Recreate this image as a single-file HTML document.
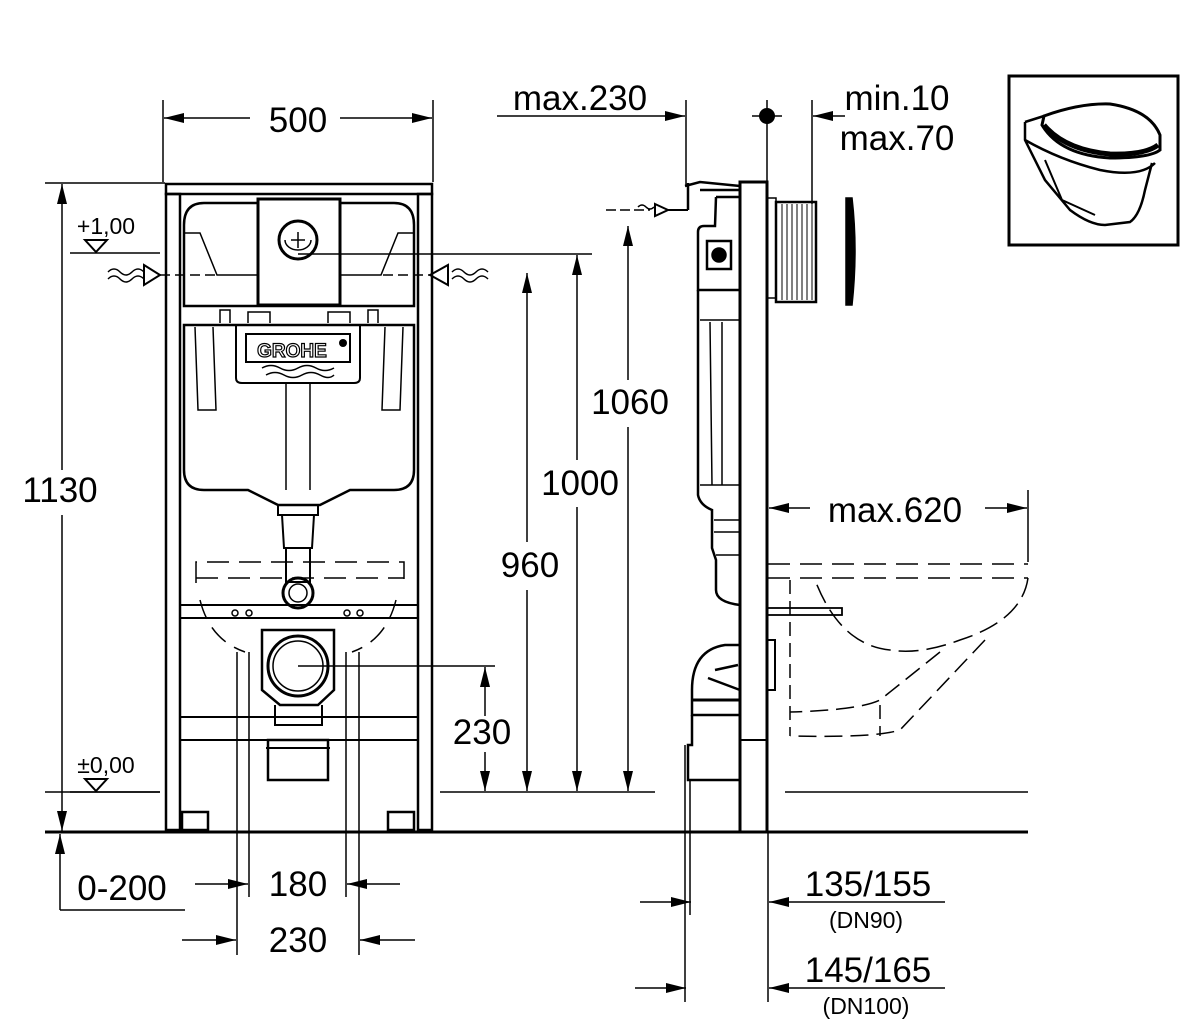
<!DOCTYPE html>
<html><head><meta charset="utf-8"><style>
html,body{margin:0;padding:0;background:#fff}
svg{display:block}
text{font-family:"Liberation Sans",sans-serif;fill:#000}
</style></head><body>
<svg width="1200" height="1030" viewBox="0 0 1200 1030" xmlns="http://www.w3.org/2000/svg">
<defs>
<marker id="a" viewBox="0 0 20 10" refX="20" refY="5" markerWidth="20" markerHeight="10" markerUnits="userSpaceOnUse" orient="auto"><path d="M0,0 L20,5 L0,10 Z" fill="#000"/></marker>
</defs>
<g stroke="#000" fill="none" stroke-width="1.5">
<line x1="45" y1="832" x2="1028" y2="832" stroke-width="3"/>
<line x1="440" y1="792" x2="655" y2="792"/>
<line x1="785" y1="792" x2="1028" y2="792"/>
<line x1="45" y1="792" x2="160" y2="792"/>
<!-- FRONT FRAME -->
<rect x="166" y="184" width="266" height="10" stroke-width="2.5"/>
<rect x="166" y="194" width="14" height="636" stroke-width="2.5"/>
<rect x="418" y="194" width="14" height="636" stroke-width="2.5"/>
<line x1="180" y1="740" x2="418" y2="740" stroke-width="2"/>
<line x1="180" y1="605" x2="418" y2="605" stroke-width="2"/>
<line x1="180" y1="618" x2="418" y2="618" stroke-width="2"/>
<line x1="180" y1="717" x2="418" y2="717" stroke-width="2"/>
<rect x="182" y="812" width="26" height="18" stroke-width="2.5"/>
<rect x="388" y="812" width="26" height="18" stroke-width="2.5"/>
<!-- cistern cover -->
<path d="M184,225 Q184,203 204,203 L394,203 Q414,203 414,225 L414,306 L184,306 Z" stroke-width="2.5"/>
<path d="M184,233 L200,233 L217,275 L258,275 M414,233 L398,233 L381,275 L340,275" stroke-width="1.5"/>
<rect x="258" y="199" width="82" height="106" stroke-width="3" fill="#fff"/>
<circle cx="298" cy="240" r="19" stroke-width="3"/>
<path d="M285,240 A13,10 0 0 0 311,240"/>
<path d="M298,232 L298,248 M291,240 L305,240"/>
<path d="M220,323 L220,310 L230,310 L230,323 M248,323 L248,312 L270,312 L270,323 M328,323 L328,312 L350,312 L350,323 M368,323 L368,310 L378,310 L378,323"/>
<!-- tank -->
<path d="M184,325 L414,325 L414,470 Q414,490 394,490 L350,490 L320,505 L278,505 L248,490 L204,490 Q184,490 184,470 Z" stroke-width="2.5"/>
<path d="M236,326 L236,378 Q236,383 242,383 L354,383 Q360,383 360,378 L360,326" stroke-width="2"/>
<rect x="246" y="334" width="104" height="28" stroke-width="2"/>
<path d="M195,327 L198,410 L216,410 L213,327 M403,327 L400,410 L382,410 L385,327"/>
<path d="M286,384 L286,490 M310,384 L310,490"/>
<path d="M278,505 L278,515 L318,515 L318,505 M282,515 L284,548 L312,548 L314,515 M286,548 L286,582 L310,582 L310,548" stroke-width="2"/>
<circle cx="298" cy="593" r="15" stroke-width="3"/>
<circle cx="298" cy="593" r="9"/>
<path d="M196,583 L196,562 L404,562 L404,583 M196,578 L404,578" stroke-dasharray="22,10"/>
<path d="M200,600 Q210,640 245,652 M396,600 Q386,640 352,652" stroke-dasharray="20,10"/>
<circle cx="235" cy="613" r="3"/><circle cx="249" cy="613" r="3"/><circle cx="347" cy="613" r="3"/><circle cx="360" cy="613" r="3"/>
<path d="M262,630 L334,630 L334,690 L318,705 L280,705 L262,690 Z" stroke-width="2.5"/>
<circle cx="298" cy="666" r="30" stroke-width="3"/>
<circle cx="298" cy="666" r="25"/>
<path d="M275,705 L275,725 L322,725 L322,705" stroke-width="2"/>
<rect x="268" y="740" width="60" height="40" stroke-width="2.5"/>
<line x1="266" y1="748" x2="330" y2="748" stroke-width="2"/>
<!-- inlets -->
<path d="M144,265 L160,275 L144,285 Z M430,275 L448,265 L448,285 Z" stroke-width="2"/>
<path d="M108,272 q6,-6 12,0 t12,0 t12,0 M108,279 q6,-6 12,0 t12,0 t12,0"/>
<path d="M452,272 q6,-6 12,0 t12,0 t12,0 M452,279 q6,-6 12,0 t12,0 t12,0"/>
<line x1="160" y1="275" x2="215" y2="275" stroke-dasharray="10,5"/>
<line x1="383" y1="275" x2="430" y2="275" stroke-dasharray="10,5"/>
<line x1="298" y1="254" x2="592" y2="254"/>
<line x1="298" y1="666" x2="495" y2="666"/>
<line x1="70" y1="253" x2="160" y2="253"/>
<path d="M85,240 L107,240 L96,252 Z" stroke-width="2"/>
<line x1="70" y1="792" x2="160" y2="792"/>
<path d="M85,779 L107,779 L96,791 Z" stroke-width="2"/>
<!-- 500 -->
<line x1="163" y1="100" x2="163" y2="182"/><line x1="433" y1="100" x2="433" y2="182"/>
<line x1="250" y1="118" x2="164" y2="118" marker-end="url(#a)"/>
<line x1="340" y1="118" x2="432" y2="118" marker-end="url(#a)"/>
<!-- 1130 -->
<line x1="45" y1="183" x2="165" y2="183"/>
<line x1="62" y1="470" x2="62" y2="184" marker-end="url(#a)"/>
<line x1="62" y1="515" x2="62" y2="831" marker-end="url(#a)"/>
<line x1="60" y1="910" x2="60" y2="834" marker-end="url(#a)"/>
<line x1="60" y1="910" x2="185" y2="910"/>
<line x1="237" y1="652" x2="237" y2="955"/>
<line x1="249" y1="652" x2="249" y2="897"/>
<line x1="346" y1="652" x2="346" y2="897"/>
<line x1="359" y1="652" x2="359" y2="955"/>
<line x1="195" y1="884" x2="248" y2="884" marker-end="url(#a)"/>
<line x1="400" y1="884" x2="347" y2="884" marker-end="url(#a)"/>
<line x1="182" y1="940" x2="236" y2="940" marker-end="url(#a)"/>
<line x1="415" y1="940" x2="360" y2="940" marker-end="url(#a)"/>
<line x1="485" y1="716" x2="485" y2="667" marker-end="url(#a)"/>
<line x1="485" y1="752" x2="485" y2="791" marker-end="url(#a)"/>
<line x1="527" y1="542" x2="527" y2="273" marker-end="url(#a)"/>
<line x1="527" y1="590" x2="527" y2="791" marker-end="url(#a)"/>
<line x1="577" y1="460" x2="577" y2="255" marker-end="url(#a)"/>
<line x1="577" y1="507" x2="577" y2="791" marker-end="url(#a)"/>
<line x1="628" y1="380" x2="628" y2="226" marker-end="url(#a)"/>
<line x1="628" y1="427" x2="628" y2="791" marker-end="url(#a)"/>
<line x1="606" y1="210" x2="650" y2="210" stroke-dasharray="10,4"/>
<!-- SIDE VIEW -->
<line x1="686" y1="100" x2="686" y2="186"/>
<line x1="497" y1="116" x2="685" y2="116" marker-end="url(#a)"/>
<line x1="812" y1="100" x2="812" y2="204"/>
<line x1="845" y1="116" x2="813" y2="116" marker-end="url(#a)"/>
<line x1="767" y1="100" x2="767" y2="182"/>
<line x1="752" y1="116" x2="782" y2="116"/>
<rect x="740" y="182" width="27" height="650" stroke-width="3"/>
<line x1="740" y1="740" x2="767" y2="740" stroke-width="2"/>
<path d="M685,186 L700,182 L740,186 M688,210 L688,183 M700,190 L740,190" stroke-width="2.5"/>
<path d="M655,204 L668,210 L655,216 Z M668,210 L688,210" stroke-width="2"/>
<path d="M638,207 q4,-4 8,0 t8,0" />
<path d="M716,197 L740,197 L740,290 L698,290 L698,232 Q698,226 704,226 L715,226 L716,197" stroke-width="2.5"/>
<rect x="707" y="241" width="24" height="28" stroke-width="2.5"/>
<circle cx="719" cy="255" r="7" fill="#000"/>
<path d="M698,290 L698,495 Q700,505 712,510 L712,548 L716,560 L716,590 Q716,602 740,605" stroke-width="2.5"/>
<path d="M700,320 L740,320 M710,322 L712,485 M722,322 L722,485 M700,485 L740,485 M714,520 L740,520 M714,532 L740,532 M716,555 L740,555"/>
<rect x="767" y="198" width="9" height="100" stroke-width="1.5"/>
<rect x="776" y="202" width="40" height="100" stroke-width="2.5"/>
<g stroke-width="1"><line x1="782" y1="204" x2="782" y2="300"/><line x1="787" y1="204" x2="787" y2="300"/><line x1="792" y1="204" x2="792" y2="300"/><line x1="797" y1="204" x2="797" y2="300"/><line x1="802" y1="204" x2="802" y2="300"/><line x1="807" y1="204" x2="807" y2="300"/><line x1="812" y1="204" x2="812" y2="300"/></g>
<path d="M846,198 L852,198 Q858,250 852,305 L846,305 Z" fill="#000"/>
<path d="M740,645 L725,645 Q692,650 692,690 L692,715 L740,715 M715,670 L738,665 M708,678 L740,690" stroke-width="2.5"/>
<line x1="692" y1="700" x2="740" y2="700" stroke-width="3"/>
<path d="M692,715 L692,745 L688,745 L688,780 L740,780" stroke-width="2.5"/>
<path d="M767,640 L775,640 L775,690 L767,690" stroke-width="2"/>
<path d="M768,564 L1028,564 M768,578 L1028,578" stroke-dasharray="22,10"/>
<path d="M1028,578 Q1022,620 960,640 Q920,655 890,650 Q840,645 815,580" stroke-dasharray="20,8"/>
<path d="M940,652 L880,700 Q860,710 790,712 M985,640 L900,730 Q875,738 790,736" stroke-dasharray="18,8"/>
<path d="M790,580 L790,736 M880,705 L880,736" stroke-dasharray="14,7"/>
<rect x="767" y="608" width="75" height="7" stroke-width="1.8"/>
<line x1="1028" y1="490" x2="1028" y2="562"/>
<line x1="810" y1="508" x2="769" y2="508" marker-end="url(#a)"/>
<line x1="985" y1="508" x2="1027" y2="508" marker-end="url(#a)"/>
<line x1="685" y1="745" x2="685" y2="1002"/>
<line x1="690" y1="780" x2="690" y2="915"/>
<line x1="768" y1="832" x2="768" y2="1002"/>
<line x1="640" y1="902" x2="691" y2="902" marker-end="url(#a)"/>
<line x1="945" y1="902" x2="769" y2="902" marker-end="url(#a)"/>
<line x1="635" y1="988" x2="686" y2="988" marker-end="url(#a)"/>
<line x1="945" y1="988" x2="769" y2="988" marker-end="url(#a)"/>
<!-- thumbnail -->
<rect x="1009" y="76" width="169" height="169" stroke-width="3"/>
<path d="M1025,122 L1025,140 L1045,180 L1070,210 Q1090,225 1105,225 L1130,222 Q1140,215 1145,190 L1152,163" stroke-width="2.5"/>
<path d="M1025,122 L1044,116 M1025,140 Q1060,160 1100,170 Q1140,178 1155,163" stroke-width="2.5"/>
<path d="M1044,116 Q1080,103 1110,104 Q1150,110 1160,135 L1160,150 Q1150,158 1110,158 Q1060,155 1042,125 Z" stroke-width="3"/>
<path d="M1044,125 Q1065,150 1110,154 Q1145,155 1158,145" stroke-width="5"/>
<path d="M1045,160 L1062,200 L1095,215" stroke-width="2"/>
</g>
<circle cx="767" cy="116" r="8" fill="#000"/>
<g font-size="35">
<text x="298" y="132" text-anchor="middle">500</text>
<text x="60" y="502" text-anchor="middle">1130</text>
<text x="630" y="414" text-anchor="middle">1060</text>
<text x="580" y="495" text-anchor="middle">1000</text>
<text x="530" y="577" text-anchor="middle">960</text>
<text x="482" y="744" text-anchor="middle">230</text>
<text x="122" y="900" text-anchor="middle">0-200</text>
<text x="298" y="896" text-anchor="middle">180</text>
<text x="298" y="952" text-anchor="middle">230</text>
<text x="580" y="110" text-anchor="middle">max.230</text>
<text x="897" y="110" text-anchor="middle">min.10</text>
<text x="897" y="150" text-anchor="middle">max.70</text>
<text x="895" y="522" text-anchor="middle">max.620</text>
<text x="868" y="896" text-anchor="middle">135/155</text>
<text x="868" y="982" text-anchor="middle">145/165</text>
</g>
<g font-size="23">
<text x="106" y="234" text-anchor="middle">+1,00</text>
<text x="106" y="773" text-anchor="middle">±0,00</text>
<text x="866" y="928" text-anchor="middle">(DN90)</text>
<text x="866" y="1014" text-anchor="middle">(DN100)</text>
</g>
<text x="292" y="357" font-size="19" font-weight="bold" text-anchor="middle" style="fill:#fff;stroke:#000;stroke-width:1.2">GROHE</text>
<circle cx="343" cy="343" r="4" fill="#000"/>
<path d="M262,368 q9,-5 18,0 t18,0 t18,0 t18,0 M266,375 q9,-5 18,0 t18,0 t18,0 t14,0" stroke="#000" fill="none" stroke-width="1.5"/>
</svg>
</body></html>
